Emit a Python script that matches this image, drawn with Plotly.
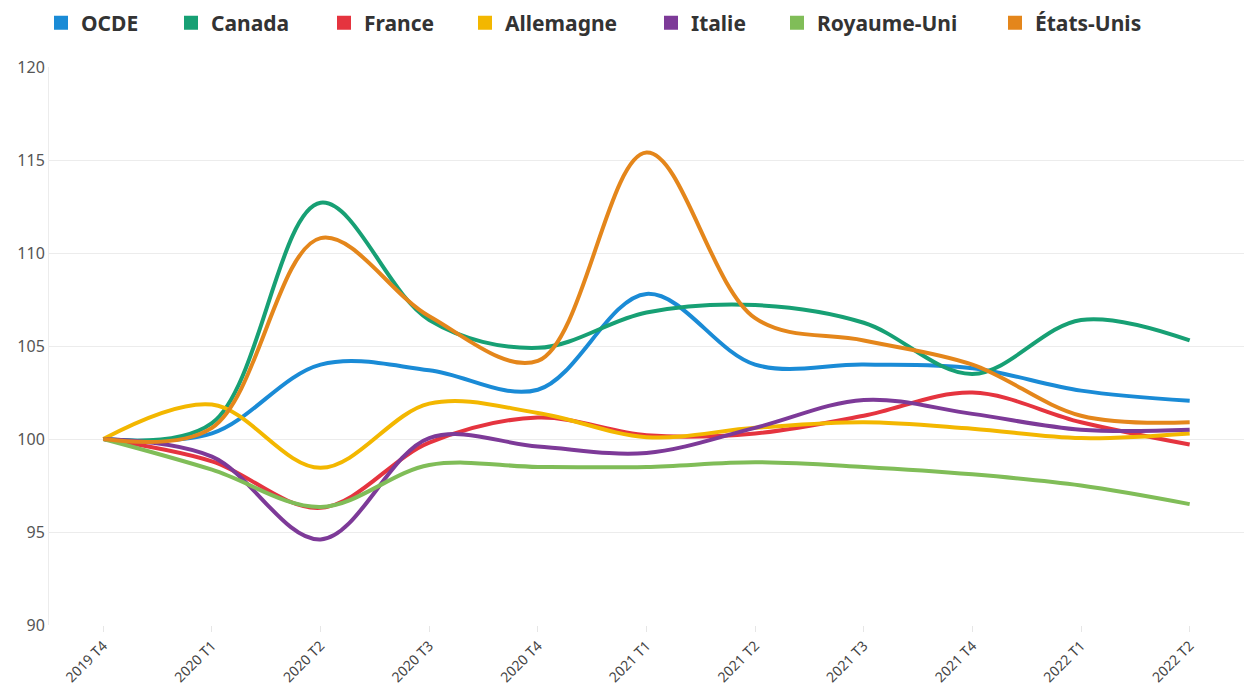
import plotly.graph_objects as go

quarters = ["2019 T4", "2020 T1", "2020 T2", "2020 T3", "2020 T4", "2021 T1",
            "2021 T2", "2021 T3", "2021 T4", "2022 T1", "2022 T2"]

ocde = [100, 100.3, 104.0, 103.7, 102.65, 107.8, 104.0, 104.0, 103.8, 102.6, 102.05]
canada = [100, 100.85, 112.7, 106.4, 104.9, 106.8, 107.2, 106.25, 103.5, 106.4, 105.3]
france = [100, 98.8, 96.3, 99.8, 101.15, 100.2, 100.3, 101.25, 102.5, 100.9, 99.7]
allemagne = [100, 101.85, 98.45, 101.9, 101.4, 100.1, 100.6, 100.9, 100.55, 100.05, 100.3]
italie = [100, 99.05, 94.6, 100.05, 99.6, 99.25, 100.6, 102.1, 101.35, 100.5, 100.5]
royaume_uni = [100, 98.35, 96.35, 98.6, 98.5, 98.5, 98.75, 98.5, 98.1, 97.5, 96.5]
etats_unis = [100, 100.6, 110.8, 106.6, 104.2, 115.4, 106.5, 105.3, 104.0, 101.25, 100.9]

y_ticks = [90, 95, 100, 105, 110, 115, 120]

series = [
    ("OCDE", ocde, "#1a8bd6"),
    ("Canada", canada, "#17a074"),
    ("France", france, "#e5343f"),
    ("Allemagne", allemagne, "#f3b700"),
    ("Italie", italie, "#7d3a98"),
    ("Royaume-Uni", royaume_uni, "#80bd58"),
    ("États-Unis", etats_unis, "#e4861b"),
]

# left pixel of each legend entry box (layout only)
legend_left_px = [41, 171, 324, 465, 651, 777, 995]

fig = go.Figure()
for name, vals, col in series:
    fig.add_trace(go.Scatter(
        x=quarters, y=vals, mode="lines", name=name, legendgroup=name,
        line=dict(color=col, width=4, shape="spline", smoothing=1.0),
        showlegend=False,
    ))

legend_font = dict(size=21, color="#333", family="'Noto Sans', sans-serif", weight="bold")
layout_legends = {}
for i, (name, vals, col) in enumerate(series):
    key = "legend" if i == 0 else f"legend{i + 1}"
    fig.add_trace(go.Scatter(
        x=[None], y=[None], mode="markers", name=name, legendgroup=name,
        marker=dict(symbol="square", size=14, color=col),
        showlegend=True, legend=key,
    ))
    layout_legends[key] = dict(
        orientation="h", xref="container", yref="container",
        x=legend_left_px[i] / 1244, xanchor="left",
        y=1 - 23 / 685, yanchor="middle",
        font=legend_font, itemwidth=30, bgcolor="rgba(0,0,0,0)",
    )

fig.update_layout(
    width=1244, height=685,
    margin=dict(l=49, r=0, t=67, b=60, autoexpand=False),
    paper_bgcolor="white", plot_bgcolor="white",
    font=dict(family="'Noto Sans', sans-serif", color="#555"),
    showlegend=True,
    xaxis=dict(
        type="category", range=[-0.5, 10.5], automargin=False,
        showgrid=False, zeroline=False,
        ticks="outside", ticklen=6, tickcolor="#e6e6e6",
        tickangle=-45, tickfont=dict(size=14, color="#444"),
        showline=False,
    ),
    yaxis=dict(
        range=[90, 120], tickvals=y_ticks, automargin=False,
        showgrid=True, gridcolor="#ececec", gridwidth=1,
        zeroline=False, showline=True, linecolor="#ececec",
        tickfont=dict(size=16, color="#555"), ticks="",
    ),
    **layout_legends,
)

fig.write_html(
    "out.html",
    config={"displayModeBar": False},
    post_script="document.body.style.margin='0';document.body.style.overflow='hidden';",
)
